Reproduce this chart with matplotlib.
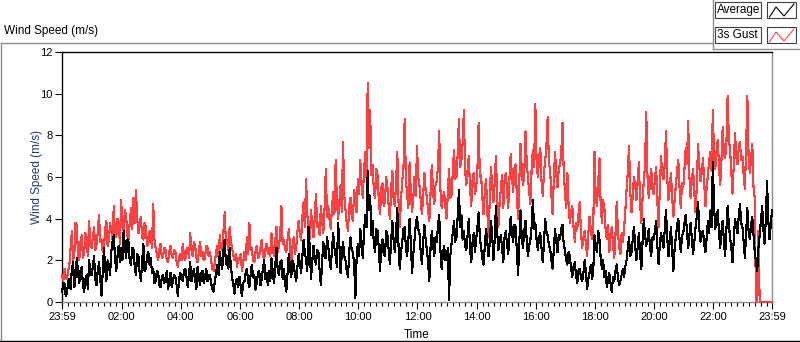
import matplotlib
matplotlib.use('Agg')
import matplotlib.pyplot as plt
from matplotlib.patches import Rectangle
import numpy as np

plt.rcParams['font.family'] = ['Liberation Sans', 'DejaVu Sans']

# 2.5 minute samples, 23:59 (previous day) -> 23:59, one row per hour
gust = [
    1.3, 1.0, 1.6, 1.2, 1.1, 1.5, 1.8, 2.6, 3.4, 2.0, 2.3, 3.8, 3.7, 2.2, 2.0, 2.9, 3.2, 2.1, 2.4, 3.3, 2.9, 2.2, 3.9, 2.7,
    2.6, 3.1, 3.6, 2.5, 2.8, 3.3, 4.2, 2.9, 3.0, 2.4, 2.5, 3.5, 3.9, 2.7, 2.9, 3.8, 3.4, 3.0, 4.6, 3.2, 3.1, 4.0, 3.7, 2.8,
    4.9, 3.6, 3.4, 4.4, 4.2, 3.2, 3.0, 3.9, 4.5, 3.5, 5.0, 3.8, 5.4, 4.0, 3.3, 3.7, 4.1, 3.1, 3.0, 3.8, 3.6, 2.7, 2.8, 3.4,
    3.2, 2.6, 4.7, 3.0, 2.6, 2.3, 2.0, 2.5, 2.8, 2.1, 2.2, 2.6, 2.5, 2.0, 1.9, 2.4, 2.7, 2.2, 2.1, 2.5, 2.4, 1.9, 1.7, 2.2,
    2.3, 2.0, 2.8, 2.2, 2.0, 2.5, 2.6, 2.1, 3.3, 2.5, 2.2, 2.9, 2.7, 2.1, 1.9, 2.4, 2.9, 2.2, 2.4, 2.0, 2.1, 2.7, 2.6, 2.2,
    2.4, 2.0, 1.6, 1.5, 1.9, 2.4, 2.7, 2.2, 3.2, 2.6, 2.5, 3.4, 4.3, 2.8, 3.0, 2.5, 3.6, 2.9, 2.6, 2.2, 2.0, 2.3, 1.7, 2.1,
    2.0, 2.3, 1.5, 1.9, 2.4, 2.0, 3.1, 2.3, 3.8, 2.5, 2.6, 2.0, 1.9, 2.4, 2.7, 2.1, 2.2, 2.6, 3.0, 2.2, 2.1, 2.5, 2.8, 2.3,
    2.6, 2.2, 3.3, 2.5, 2.2, 2.9, 3.6, 2.4, 2.7, 3.2, 4.6, 2.8, 3.0, 2.5, 2.4, 3.0, 3.5, 2.6, 2.0, 2.7, 3.1, 2.3, 2.6, 3.4,
    3.9, 3.2, 3.0, 4.1, 4.8, 3.6, 5.9, 4.2, 3.5, 3.0, 4.4, 3.7, 3.1, 4.0, 5.2, 3.6, 3.8, 3.2, 4.6, 3.9, 3.3, 4.5, 6.4, 4.1,
    4.6, 4.0, 3.5, 4.5, 5.3, 4.2, 6.8, 4.9, 4.0, 4.8, 5.6, 4.3, 7.7, 5.1, 4.4, 3.8, 3.4, 4.6, 5.0, 4.1, 3.9, 5.4, 4.8, 4.3,
    5.9, 5.2, 6.8, 5.6, 5.0, 6.3, 7.2, 6.0, 10.5, 7.4, 9.2, 6.1, 6.6, 5.3, 5.0, 6.4, 6.1, 4.9, 4.2, 5.5, 5.7, 4.6, 4.8, 6.0,
    5.5, 4.6, 4.0, 5.4, 6.3, 5.0, 4.6, 5.7, 7.2, 4.8, 3.6, 4.9, 5.8, 6.4, 8.8, 5.9, 5.1, 4.5, 6.7, 5.2, 4.3, 5.0, 6.0, 5.1,
    7.5, 6.0, 5.6, 4.9, 4.2, 5.1, 6.2, 5.4, 5.0, 4.4, 3.9, 5.2, 6.6, 5.3, 4.7, 5.6, 5.8, 6.5, 8.2, 5.4, 4.5, 5.0, 5.3, 4.6,
    4.0, 5.2, 6.4, 5.0, 5.1, 6.2, 7.3, 5.9, 6.0, 7.1, 8.8, 6.5, 6.8, 7.6, 9.2, 6.4, 5.6, 6.3, 7.0, 5.5, 4.6, 5.8, 6.2, 5.2,
    5.5, 6.3, 8.6, 6.0, 6.1, 5.0, 4.2, 5.3, 5.9, 4.4, 3.1, 4.9, 6.5, 5.6, 4.8, 5.7, 7.0, 5.2, 3.6, 4.7, 5.4, 6.1, 4.5, 5.8,
    6.2, 5.4, 4.5, 5.9, 7.1, 6.0, 5.3, 6.4, 6.6, 5.1, 4.0, 5.8, 7.6, 6.3, 5.6, 6.1, 8.2, 6.7, 6.0, 5.3, 4.7, 6.4, 7.3, 6.5,
    9.5, 6.8, 6.0, 6.9, 7.4, 5.8, 5.1, 6.2, 6.8, 7.5, 8.9, 6.7, 6.3, 5.2, 4.2, 5.9, 7.2, 6.1, 5.5, 6.4, 6.6, 7.1, 8.6, 6.3,
    5.3, 4.5, 6.2, 4.6, 3.8, 4.3, 4.6, 3.6, 2.9, 3.8, 3.5, 4.2, 4.8, 3.4, 2.6, 3.1, 3.4, 2.8, 2.2, 3.3, 4.1, 3.5, 3.0, 3.7,
    7.2, 5.0, 4.6, 5.8, 6.9, 4.7, 3.8, 4.9, 4.5, 3.5, 3.0, 3.7, 2.4, 3.1, 3.6, 2.8, 2.1, 3.2, 4.8, 3.4, 2.6, 2.3, 3.3, 2.9,
    3.5, 4.4, 5.4, 6.2, 7.5, 5.3, 4.3, 5.1, 6.0, 5.6, 4.9, 5.8, 6.7, 4.7, 3.8, 5.0, 5.8, 6.6, 9.1, 6.0, 5.0, 5.7, 6.4, 5.4,
    5.2, 5.9, 6.5, 4.8, 3.6, 5.5, 7.0, 6.1, 5.9, 6.6, 8.2, 6.0, 4.9, 5.4, 6.2, 5.0, 4.1, 4.9, 5.6, 6.3, 6.8, 5.5, 4.5, 5.7,
    5.5, 6.4, 7.4, 6.6, 8.7, 6.0, 5.0, 5.9, 6.4, 5.2, 4.3, 5.6, 7.6, 6.5, 5.8, 6.2, 6.9, 5.7, 4.6, 5.5, 6.1, 6.8, 7.2, 6.3,
    9.2, 7.0, 6.4, 7.2, 7.8, 6.5, 5.6, 6.8, 8.4, 7.1, 6.9, 7.6, 9.9, 7.8, 7.3, 6.2, 5.2, 6.7, 8.1, 7.0, 6.6, 7.4, 7.7, 6.8,
    7.0, 6.1, 5.4, 7.4, 9.9, 7.0, 6.2, 6.9, 7.6, 5.5, 5.0, 0.0, 0.0, 3.4, 0.0, 0.0, 0.0, 0.0, 0.0, 0.0, 0.0, 0.0, 0.0, 0.0, 0.0,
]
average = [
    0.5, 0.8, 0.9, 0.3, 0.4, 1.0, 1.1, 0.6, 1.6, 1.9, 0.7, 1.2, 2.1, 1.4, 0.9, 1.5, 1.7, 0.8, 0.5, 1.1, 1.3, 0.6, 2.0, 1.4,
    1.3, 1.7, 2.2, 1.1, 0.8, 1.5, 1.9, 1.2, 0.3, 1.4, 2.6, 1.6, 1.0, 2.0, 1.8, 1.3, 2.4, 2.9, 3.2, 2.1, 1.5, 2.2, 2.7, 1.9,
    2.6, 2.0, 3.4, 2.7, 2.1, 3.0, 2.9, 1.9, 1.8, 2.6, 2.5, 1.7, 1.3, 2.3, 2.2, 1.4, 1.0, 1.9, 2.8, 1.5, 1.6, 2.2, 2.4, 1.8,
    2.1, 1.4, 1.6, 0.9, 1.0, 1.5, 1.4, 0.8, 0.7, 1.2, 1.3, 0.9, 1.1, 1.5, 0.6, 1.0, 1.4, 0.7, 1.0, 1.3, 1.2, 0.8, 0.3, 1.1,
    1.4, 1.1, 1.0, 1.5, 1.6, 1.2, 0.7, 1.3, 1.9, 1.0, 1.3, 1.6, 1.1, 0.6, 1.7, 1.2, 0.8, 1.4, 1.5, 0.9, 1.2, 1.6, 1.0, 1.3,
    1.3, 0.9, 0.6, 0.5, 1.0, 1.4, 1.8, 1.3, 2.4, 1.9, 1.6, 2.5, 3.0, 1.8, 2.2, 1.6, 2.6, 1.7, 1.2, 0.8, 0.4, 1.0, 1.1, 0.7,
    1.2, 0.7, 0.3, 0.9, 1.0, 1.4, 1.6, 1.0, 0.7, 1.3, 1.8, 1.2, 1.3, 0.6, 0.9, 1.4, 1.5, 0.8, 1.1, 1.6, 2.0, 1.1, 1.4, 0.8,
    1.5, 1.0, 2.1, 1.4, 0.9, 1.7, 2.6, 1.5, 1.3, 1.9, 2.0, 1.1, 1.6, 0.9, 0.5, 1.4, 2.3, 1.6, 1.2, 2.0, 1.8, 1.3, 1.0, 1.7,
    2.3, 1.8, 1.4, 2.2, 3.0, 2.4, 2.0, 1.5, 3.6, 2.6, 1.1, 1.9, 2.7, 2.1, 1.8, 2.5, 2.4, 1.5, 0.8, 1.9, 2.9, 2.2, 2.1, 3.1,
    2.7, 2.0, 1.6, 2.5, 3.3, 2.6, 2.2, 1.7, 3.8, 2.8, 1.4, 2.3, 2.9, 2.2, 2.0, 1.5, 1.2, 2.4, 3.1, 2.5, 2.4, 1.8, 0.2, 2.1,
    2.8, 2.2, 3.5, 2.9, 2.1, 3.3, 4.2, 3.6, 6.3, 4.4, 5.1, 3.2, 3.9, 2.8, 2.4, 3.5, 3.4, 2.6, 1.5, 2.7, 3.0, 2.3, 2.2, 3.4,
    3.2, 2.5, 1.8, 2.9, 3.9, 3.0, 2.4, 3.3, 4.5, 2.7, 1.6, 2.4, 2.9, 3.5, 3.6, 2.6, 2.2, 3.0, 4.0, 2.8, 1.4, 2.3, 3.0, 3.7,
    4.1, 3.5, 3.3, 2.4, 1.8, 2.9, 3.7, 3.0, 2.5, 1.9, 1.0, 2.6, 3.4, 2.8, 2.2, 3.1, 2.9, 3.6, 4.2, 2.5, 1.6, 2.3, 2.7, 2.0,
    2.0, 2.6, 0.1, 2.2, 2.8, 3.3, 3.9, 2.9, 3.1, 4.1, 5.4, 3.6, 4.2, 3.0, 3.4, 2.7, 2.5, 3.2, 4.0, 2.6, 1.9, 2.8, 3.3, 2.4,
    3.0, 3.6, 4.3, 3.1, 2.6, 2.1, 1.8, 2.7, 3.5, 2.9, 2.2, 2.8, 3.9, 3.2, 2.0, 3.0, 4.6, 3.4, 2.5, 2.9, 3.2, 2.6, 1.9, 3.1,
    3.4, 2.8, 2.3, 3.2, 4.1, 3.3, 2.9, 3.7, 3.6, 2.4, 1.3, 2.9, 4.4, 3.1, 2.6, 3.4, 3.9, 3.0, 2.2, 2.7, 3.0, 3.6, 4.9, 3.5,
    3.8, 3.0, 2.5, 3.1, 3.3, 2.6, 1.9, 2.8, 4.0, 3.4, 3.2, 2.7, 2.6, 2.0, 1.6, 2.5, 3.5, 2.9, 2.4, 3.2, 3.0, 3.5, 3.7, 2.8,
    2.5, 2.0, 1.8, 2.4, 2.2, 1.6, 1.2, 1.7, 1.9, 1.3, 0.9, 1.5, 1.6, 1.2, 1.0, 1.4, 2.0, 1.5, 0.6, 1.1, 1.4, 1.8, 1.1, 1.5,
    3.2, 2.6, 2.4, 3.4, 3.0, 2.1, 1.6, 2.0, 1.2, 1.5, 0.7, 1.1, 1.4, 0.9, 0.5, 1.2, 1.0, 1.5, 1.8, 1.2, 0.8, 1.0, 1.3, 1.6,
    1.2, 1.7, 2.0, 2.6, 3.1, 2.2, 2.4, 3.0, 3.6, 2.7, 2.0, 2.6, 3.3, 2.3, 1.6, 2.9, 4.0, 3.2, 2.7, 3.0, 3.5, 2.6, 2.2, 3.1,
    3.0, 3.4, 3.9, 2.7, 1.8, 2.8, 3.3, 3.0, 2.6, 3.5, 4.4, 3.1, 2.2, 2.9, 3.6, 2.5, 1.5, 2.6, 3.1, 3.7, 4.0, 3.0, 2.4, 3.2,
    3.3, 3.8, 4.2, 3.4, 2.6, 3.2, 3.8, 3.0, 2.3, 2.9, 3.6, 4.1, 4.8, 3.5, 2.9, 3.3, 3.4, 2.8, 2.4, 3.1, 3.9, 3.3, 4.4, 3.6,
    6.7, 4.6, 3.5, 4.0, 4.4, 3.3, 2.6, 3.4, 3.9, 2.9, 2.2, 3.5, 4.6, 3.7, 3.1, 2.6, 1.9, 3.0, 4.0, 3.6, 3.3, 4.1, 4.7, 3.8,
    3.6, 2.9, 2.1, 3.3, 4.5, 3.4, 3.0, 3.7, 4.1, 3.2, 2.4, 1.9, 1.5, 2.6, 3.2, 3.9, 4.6, 3.5, 2.8, 4.0, 5.8, 3.9, 3.0, 3.7, 4.4,
]
span_min = 1440
tick_minutes = [0, 121, 241, 361, 481, 601, 721, 841, 961, 1081, 1201, 1321, 1440]
tick_labels = ['23:59', '02:00', '04:00', '06:00', '08:00', '10:00', '12:00',
               '14:00', '16:00', '18:00', '20:00', '22:00', '23:59']
y_ticks = [0, 2, 4, 6, 8, 10, 12]

W, H = 800, 342
fig = plt.figure(figsize=(W / 100, H / 100), dpi=100, facecolor='white')

# overlay in pixel coordinates for the panel frame and legend
ov = fig.add_axes([0, 0, 1, 1])
ov.set_xlim(0, W)
ov.set_ylim(H, 0)
ov.axis('off')
ov.plot([0.5, 712], [42.5, 42.5], color='#8c8c8c', lw=1)
ov.plot([0.5, 0.5], [42.5, H], color='#8c8c8c', lw=1)
ov.plot([0, W], [340.5, 340.5], color='black', lw=1)
ov.plot([712.5, 712.5], [0, 49], color='#8c8c8c', lw=1)
ov.plot([712.5, W], [48.5, 48.5], color='#8c8c8c', lw=1)
ov.text(4, 31, 'Wind Speed (m/s)', fontsize=8.5, va='center', ha='left')

for yc, name, col in [(10, 'Average', 'black'), (35, '3s Gust', '#ff4040')]:
    ov.add_patch(Rectangle((715, yc - 8), 46, 16, fc='white', ec='#404040', lw=0.8))
    ov.text(717, yc + 0.5, name, fontsize=8.5, va='center', ha='left')
    ov.add_patch(Rectangle((767, yc - 8), 29, 16, fc='white', ec='#404040', lw=0.8))
    ov.plot([769.5, 776, 784, 794], [yc + 7, yc - 3, yc + 6, yc - 6], color=col, lw=0.8)

ax = fig.add_axes([62 / W, (H - 302) / H, 710 / W, 250 / H])
ax.set_zorder(2)
t = np.linspace(0, span_min, len(gust))
ax.plot(t, gust, color='#ff4040', lw=0.8, antialiased=False, zorder=3, clip_on=False)
ax.plot(t, average, color='black', lw=0.8, antialiased=False, zorder=3, clip_on=False)

ax.set_xlim(0, span_min)
ax.set_ylim(0, 12)
ax.set_xticks(tick_minutes)
ax.set_xticklabels(tick_labels)
ax.set_xticks(np.arange(1, span_min, 12), minor=True)
ax.set_yticks(y_ticks)
ax.tick_params(axis='both', which='major', direction='out', length=5, width=0.8,
               labelsize=8, pad=2)
ax.tick_params(axis='x', which='minor', direction='out', length=3, width=0.8)
ax.set_xlabel('Time', fontsize=8.5, labelpad=5)
ax.set_ylabel('Wind Speed (m/s)', fontsize=8.5, color='#1f3a6e', labelpad=-2)
ax.spines['top'].set_color('black')
ax.spines['left'].set_color('black')
ax.spines['bottom'].set_color('#8c8c8c')
ax.spines['right'].set_color('#8c8c8c')
for s in ax.spines.values():
    s.set_linewidth(1)

fig.savefig('out.png', dpi=100)
